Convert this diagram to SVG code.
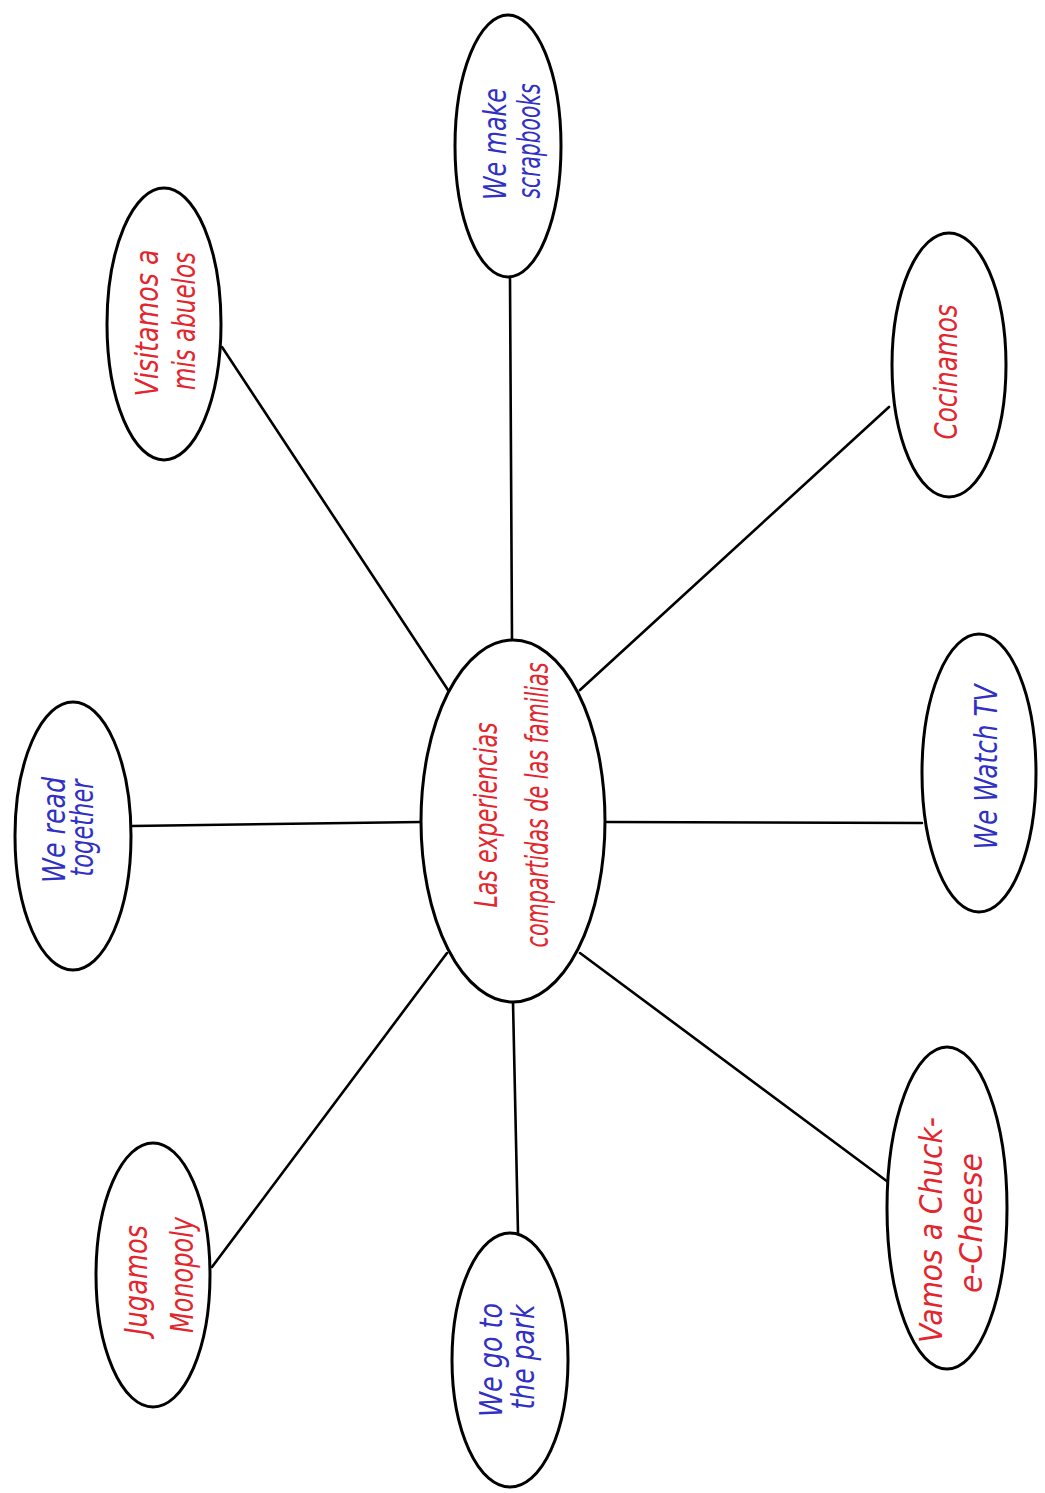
<svg xmlns="http://www.w3.org/2000/svg" width="1045" height="1493" viewBox="0 0 1045 1493">
<style>
.bg{fill:#ffffff}
.node ellipse{fill:#ffffff;stroke:#000000;stroke-width:3}
.edges line{stroke:#000000;stroke-width:2.6;stroke-linecap:round}
text{font-family:"Liberation Sans Narrow","DejaVu Sans Condensed","Liberation Sans",sans-serif;font-style:italic;font-size:32px;text-anchor:middle}
.r{fill:#e3262e}
.b{fill:#3030c4}
</style>
<rect class="bg" x="0" y="0" width="1045" height="1493"/>
<g id="edges" class="edges">
<line x1="222" y1="347" x2="448" y2="690"/>
<line x1="510" y1="278" x2="512" y2="640"/>
<line x1="889" y1="407" x2="580" y2="690"/>
<line x1="607" y1="822" x2="922" y2="823"/>
<line x1="580" y1="953" x2="888" y2="1182"/>
<line x1="513" y1="1002" x2="518" y2="1233"/>
<line x1="447" y1="953" x2="212" y2="1267"/>
<line x1="132" y1="826" x2="421" y2="822"/>
</g>
<g id="center" class="node">
<ellipse cx="513" cy="821" rx="92" ry="181"/>
<text class="r" transform="translate(497,815) rotate(-90)" textLength="185" lengthAdjust="spacingAndGlyphs">Las experiencias</text>
<text class="r" transform="translate(548,805) rotate(-90)" textLength="285" lengthAdjust="spacingAndGlyphs">compartidas de las familias</text>
</g>
<g id="read" class="node">
<ellipse cx="73" cy="836" rx="58" ry="134"/>
<text class="b" transform="translate(65,830) rotate(-90)" textLength="106" lengthAdjust="spacingAndGlyphs">We read</text>
<text class="b" transform="translate(93,828) rotate(-90)" textLength="97" lengthAdjust="spacingAndGlyphs">together</text>
</g>
<g id="visitamos" class="node">
<ellipse cx="164" cy="324" rx="57" ry="136"/>
<text class="r" transform="translate(158,323) rotate(-90)" textLength="147" lengthAdjust="spacingAndGlyphs">Visitamos a</text>
<text class="r" transform="translate(195,321) rotate(-90)" textLength="138" lengthAdjust="spacingAndGlyphs">mis abuelos</text>
</g>
<g id="scrapbooks" class="node">
<ellipse cx="508" cy="146" rx="53" ry="131"/>
<text class="b" transform="translate(506,144) rotate(-90)" textLength="112" lengthAdjust="spacingAndGlyphs">We make</text>
<text class="b" transform="translate(540,141) rotate(-90)" textLength="115" lengthAdjust="spacingAndGlyphs">scrapbooks</text>
</g>
<g id="cocinamos" class="node">
<ellipse cx="949" cy="365" rx="57" ry="132"/>
<text class="r" transform="translate(957,372) rotate(-90)" textLength="135" lengthAdjust="spacingAndGlyphs">Cocinamos</text>
</g>
<g id="watchtv" class="node">
<ellipse cx="979" cy="773" rx="57" ry="139"/>
<text class="b" transform="translate(997,767) rotate(-90)" textLength="165" lengthAdjust="spacingAndGlyphs">We Watch TV</text>
</g>
<g id="chuck" class="node">
<ellipse cx="947" cy="1208" rx="60" ry="161"/>
<text class="r" transform="translate(942,1230) rotate(-90)" textLength="226" lengthAdjust="spacingAndGlyphs">Vamos a Chuck-</text>
<text class="r" transform="translate(982,1223) rotate(-90)" textLength="140" lengthAdjust="spacingAndGlyphs">e-Cheese</text>
</g>
<g id="park" class="node">
<ellipse cx="510" cy="1360" rx="58" ry="127"/>
<text class="b" transform="translate(502,1360) rotate(-90)" textLength="114" lengthAdjust="spacingAndGlyphs">We go to</text>
<text class="b" transform="translate(534,1357) rotate(-90)" textLength="105" lengthAdjust="spacingAndGlyphs">the park</text>
</g>
<g id="monopoly" class="node">
<ellipse cx="153" cy="1275" rx="57" ry="132"/>
<text class="r" transform="translate(147,1280) rotate(-90)" textLength="110" lengthAdjust="spacingAndGlyphs">Jugamos</text>
<text class="r" transform="translate(193,1275) rotate(-90)" textLength="116" lengthAdjust="spacingAndGlyphs">Monopoly</text>
</g>
</svg>
